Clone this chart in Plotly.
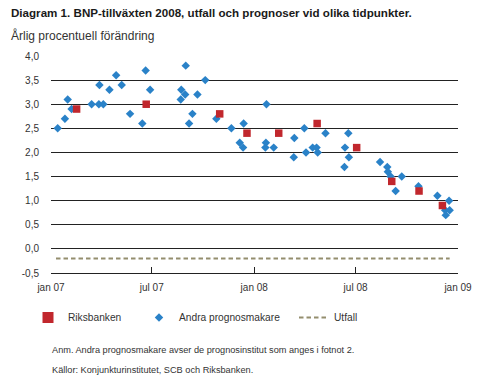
import plotly.graph_objects as go

# ---- data ----
riks_dates = ["2007-02-16", "2007-06-21", "2007-10-31", "2007-12-19", "2008-02-14",
              "2008-04-23", "2008-07-03", "2008-09-04", "2008-10-23", "2008-12-04"]
riks_values = [2.9, 3.0, 2.8, 2.4, 2.4, 2.6, 2.1, 1.4, 1.2, 0.9]

andra_dates = ["2007-01-13", "2007-01-26", "2007-01-31", "2007-02-07", "2007-03-15",
               "2007-03-28", "2007-03-29", "2007-04-05", "2007-04-16", "2007-04-28",
               "2007-05-08", "2007-05-23", "2007-06-14", "2007-06-20", "2007-06-28",
               "2007-08-22", "2007-08-23", "2007-08-30", "2007-08-31", "2007-09-06",
               "2007-09-12", "2007-09-21", "2007-10-05", "2007-10-25", "2007-11-21",
               "2007-12-06", "2007-12-12", "2007-12-13", "2008-01-21", "2008-01-22",
               "2008-01-23", "2008-02-05", "2008-03-12", "2008-03-13", "2008-03-31",
               "2008-04-03", "2008-04-15", "2008-04-22", "2008-04-24", "2008-05-08",
               "2008-06-11", "2008-06-12", "2008-06-18", "2008-06-19", "2008-08-14",
               "2008-08-27", "2008-08-28", "2008-09-02", "2008-09-11", "2008-09-22",
               "2008-10-22", "2008-11-25", "2008-12-09", "2008-12-10", "2008-12-16",
               "2008-12-17"]
andra_values = [2.5, 2.7, 3.1, 2.9, 3.0,
                3.0, 3.4, 3.0, 3.3, 3.6,
                3.4, 2.8, 2.6, 3.7, 3.3,
                3.1, 3.3, 3.2, 3.8, 2.6,
                2.8, 3.2, 3.5, 2.7, 2.5,
                2.2, 2.1, 2.6, 2.1, 2.2,
                3.0, 2.1, 1.9, 2.3, 2.5,
                2.0, 2.1, 2.1, 2.0, 2.4,
                1.7, 2.1, 2.4, 1.9, 1.8,
                1.7, 1.6, 1.5, 1.2, 1.5,
                1.3, 1.1, 0.8, 0.7, 1.0,
                0.8]

utfall_dates = ["2007-01-10", "2008-12-17"]
utfall_values = [-0.2, -0.2]

x_tickvals = ["2007-01-01", "2007-07-01", "2008-01-01", "2008-07-01", "2009-01-01"]
x_ticktext = ["jan 07", "jul 07", "jan 08", "jul 08", "jan 09"]
y_tickvals = [-0.5, 0.0, 0.5, 1.0, 1.5, 2.0, 2.5, 3.0, 3.5, 4.0]
y_ticktext = ["-0,5", "0,0", "0,5", "1,0", "1,5", "2,0", "2,5", "3,0", "3,5", "4,0"]

RED = "#c1272d"
BLUE = "#2a82c8"
OLIVE = "#948e6e"
FONT = "Liberation Sans, Arial, sans-serif"

fig = go.Figure()

fig.add_trace(go.Scatter(
    x=utfall_dates, y=utfall_values, mode="lines", name="Utfall",
    line=dict(color=OLIVE, width=2, dash="4.5px,3px"), showlegend=False))

fig.add_trace(go.Scatter(
    x=andra_dates, y=andra_values, mode="markers", name="Andra prognosmakare",
    marker=dict(symbol="diamond", size=6.5, color=BLUE), showlegend=False))

fig.add_trace(go.Scatter(
    x=riks_dates, y=riks_values, mode="markers", name="Riksbanken",
    marker=dict(symbol="square", size=7.5, color=RED), showlegend=False))

# legend entries
fig.add_trace(go.Scatter(
    x=[None], y=[None], mode="markers", name="Riksbanken",
    marker=dict(symbol="square", size=11, color=RED), legendwidth=66))
fig.add_trace(go.Scatter(
    x=[None], y=[None], mode="markers", name="Andra prognosmakare",
    marker=dict(symbol="diamond", size=6.5, color=BLUE), legendwidth=110))
fig.add_trace(go.Scatter(
    x=[None], y=[None], mode="lines", name="Utfall",
    line=dict(color=OLIVE, width=2, dash="4.5px,3px")))

W, H = 485, 385
L, R, T, B = 51, 27, 56, 112
pw, ph = W - L - R, H - T - B

def px(xp):
    return (xp - L) / pw

def py(yp):
    return (H - B - yp) / ph

fig.update_layout(
    width=W, height=H,
    margin=dict(l=L, r=R, t=T, b=B, autoexpand=False),
    paper_bgcolor="white", plot_bgcolor="white",
    font=dict(family=FONT, size=10, color="#333333"),
    showlegend=True,
    legend=dict(orientation="h", xref="container", yref="container",
                x=28 / W, xanchor="left", y=1 - 317.5 / H, yanchor="middle",
                font=dict(size=10.2, color="#333333"), bgcolor="rgba(0,0,0,0)",
                borderwidth=0, traceorder="normal", itemclick=False),
    xaxis=dict(type="date", range=["2007-01-01", "2009-01-01"],
               tickvals=x_tickvals, ticktext=x_ticktext,
               ticks="inside", ticklen=6, tickcolor="#222222", tickwidth=1.2,
               showline=True, linecolor="#222222", linewidth=1.2,
               showgrid=False, zeroline=False, ticklabelstandoff=5,
               tickfont=dict(size=10, color="#333333")),
    yaxis=dict(range=[-0.5, 4.0], tickvals=y_tickvals, ticktext=y_ticktext,
               showgrid=True, gridcolor="#222222", gridwidth=1.2,
               zeroline=False, showline=False, ticks="",
               ticklabelstandoff=11,
               tickfont=dict(size=10, color="#333333")),
    annotations=[
        dict(text="<b>Diagram 1. BNP-tillväxten 2008, utfall och prognoser vid olika tidpunkter.</b>",
             xref="paper", yref="paper", x=px(9), y=py(12.5), xanchor="left", yanchor="middle",
             showarrow=False, font=dict(size=11.6, color="#1a1a1a", family=FONT)),
        dict(text="Årlig procentuell förändring",
             xref="paper", yref="paper", x=px(9), y=py(36), xanchor="left", yanchor="middle",
             showarrow=False, font=dict(size=12, color="#333333", family=FONT)),
        dict(text="Anm. Andra prognosmakare avser de prognosinstitut som anges i fotnot 2.",
             xref="paper", yref="paper", x=px(50), y=py(350), xanchor="left", yanchor="middle",
             showarrow=False, font=dict(size=9.2, color="#333333", family=FONT)),
        dict(text="Källor: Konjunkturinstitutet, SCB och Riksbanken.",
             xref="paper", yref="paper", x=px(50), y=py(370), xanchor="left", yanchor="middle",
             showarrow=False, font=dict(size=9.2, color="#333333", family=FONT)),
    ],
)

fig.write_html("out.html", config={"displayModeBar": False},
               post_script="document.body.style.margin='0';")
